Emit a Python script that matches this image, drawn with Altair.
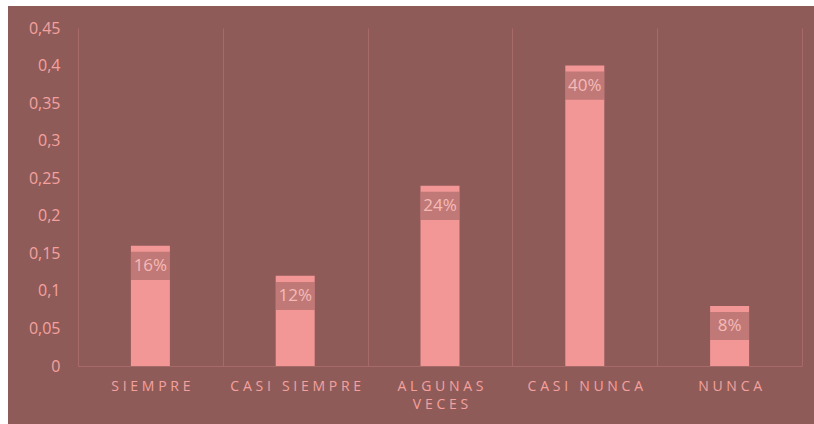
import altair as alt
import pandas as pd

categories = ["SIEMPRE", "CASI SIEMPRE", "ALGUNAS VECES", "CASI NUNCA", "NUNCA"]
values = [0.16, 0.12, 0.24, 0.40, 0.08]
labels = ["16%", "12%", "24%", "40%", "8%"]
y_ticks = [0, 0.05, 0.1, 0.15, 0.2, 0.25, 0.3, 0.35, 0.4, 0.45]

df = pd.DataFrame({"cat": categories, "value": values, "label": labels})

W, H = 724, 338
BG = "#8F5B59"
GRID = "#A66A68"
PINK = "#F4A19E"
BAR = "#F29696"
FONT = "Open Sans"

SP = "\u2009\u200a"


def spaced(s):
    return "join(split(" + s + ", ''), '" + SP + "')"


x_label_expr = (
    "datum.label == 'ALGUNAS VECES' ? ["
    + spaced("'ALGUNAS'") + ", " + spaced("'VECES'") + "] : "
    + spaced("datum.label")
)

xscale = alt.Scale(domain=categories, paddingInner=0, paddingOuter=0)
yscale = alt.Scale(domain=[0, 0.45], nice=False)

x_axis = alt.Axis(
    title=None, grid=True, gridColor=GRID, tickBand="extent",
    domainColor=GRID, ticks=False, labelColor=PINK, labelFont=FONT,
    labelFontSize=14, labelPadding=13, labelAngle=0, labelLineHeight=18,
    labelExpr=x_label_expr, labelOverlap=False, zindex=1,
)

y_axis = alt.Axis(
    title=None, grid=False, ticks=False, domainColor=GRID, values=y_ticks,
    labelColor=PINK, labelFont=FONT, labelFontSize=16, labelPadding=18,
    labelOverlap=False, labelBound=False,
    labelExpr="replace(format(datum.value, '.2~f'), '.', ',')", zindex=1,
)

x_enc = alt.X("cat:N", scale=xscale, sort=categories, axis=x_axis)

bg = alt.Chart(pd.DataFrame({"a": [0]})).mark_rect(fill=BG).encode(
    x=alt.value(-70), x2=alt.value(W + 20), y=alt.value(-22), y2=alt.value(H + 70)
)

base = alt.Chart(df).transform_calculate(
    hi="datum.value - 0.008", lo="datum.value - 0.0455", mid="datum.value - 0.027"
)

bars = base.mark_bar(color=BAR, width=39).encode(
    x=x_enc, y=alt.Y("value:Q", scale=yscale, axis=y_axis)
)

boxes = base.mark_bar(color=BG, opacity=0.5, width=39).encode(
    x=x_enc,
    y=alt.Y("hi:Q", scale=yscale, axis=y_axis), y2="lo:Q",
)

texts = base.mark_text(font=FONT, fontSize=17, color="#F5BAB6", baseline="middle").encode(
    x=x_enc,
    y=alt.Y("mid:Q", scale=yscale, axis=y_axis), text="label:N",
)

chart = alt.layer(bg, bars, boxes, texts).properties(
    width=W, height=H,
    padding={"left": 78, "top": 28, "right": 12, "bottom": 58},
    autosize=alt.AutoSizeParams(type="none"),
).configure_view(stroke=None)

chart.save("out.html", embed_options={"renderer": "svg", "actions": False})
